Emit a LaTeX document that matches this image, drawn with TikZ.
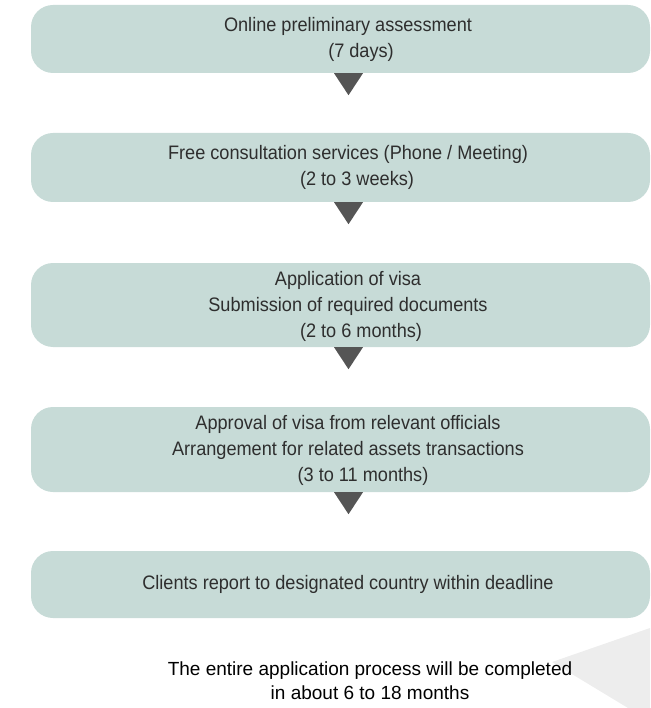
\documentclass[tikz,border=0pt]{standalone}
\usepackage{fontspec}
\setmainfont{Liberation Sans}
\newfontfamily\boxfont[FakeStretch=0.93]{Liberation Sans}
\definecolor{boxfill}{HTML}{C7DBD7}
\definecolor{markfill}{HTML}{555555}
\definecolor{shadegrey}{HTML}{EDEDED}
\definecolor{boxtext}{HTML}{2E2E2E}
\tikzset{
  stepbox/.style={fill=boxfill, draw=none, rounded corners=22pt, minimum width=619pt, inner sep=0pt},
  steptext/.style={font=\boxfont\fontsize{19.5}{26}\selectfont, text=boxtext, align=center, inner sep=0pt},
  marker/.style={fill=markfill, draw=none},
  endtext/.style={font=\fontsize{19}{24}\selectfont, text=black, align=center, inner sep=0pt}
}
\begin{document}
\begin{tikzpicture}[x=1pt,y=-1pt]
\useasboundingbox (0,0) rectangle (650,708);
% grey wedge
\fill[shadegrey] (552,662) -- (650,628) -- (650,708) -- (628,708) -- cycle;
% boxes
\node[stepbox, minimum height=68pt] (b1) at (340.5,39) {};
\node[stepbox, minimum height=69pt] (b2) at (340.5,167.5) {};
\node[stepbox, minimum height=84pt] (b3) at (340.5,305) {};
\node[stepbox, minimum height=85pt] (b4) at (340.5,449.5) {};
\node[stepbox, minimum height=67pt] (b5) at (340.5,584.5) {};
% texts
\node[steptext] (t1) at (348,39) {Online preliminary assessment\\\hspace*{26pt}(7 days)};
\node[steptext] (t2) at (348,167.5) {Free consultation services (Phone / Meeting)\\\hspace*{18pt}(2 to 3 weeks)};
\node[steptext] (t3) at (348,306) {Application of visa\\Submission of required documents\\\hspace*{26pt}(2 to 6 months)};
\node[steptext] (t4) at (348,450) {Approval of visa from relevant officials\\Arrangement for related assets transactions\\\hspace*{30pt}(3 to 11 months)};
\node[steptext] (t5) at (348,584.5) {Clients report to designated country within deadline};
% markers
\foreach \b in {b1,b2,b3,b4}{
  \coordinate (m) at ([xshift=8pt]\b.south);
  \fill[marker] ([xshift=-14.5pt]m) -- ([xshift=14.5pt]m) -- ([yshift=-22pt]m) -- cycle;
}
% closing text
\node[endtext] (fin) at (370,681) {The entire application process will be completed\\in about 6 to 18 months};
\end{tikzpicture}
\end{document}
